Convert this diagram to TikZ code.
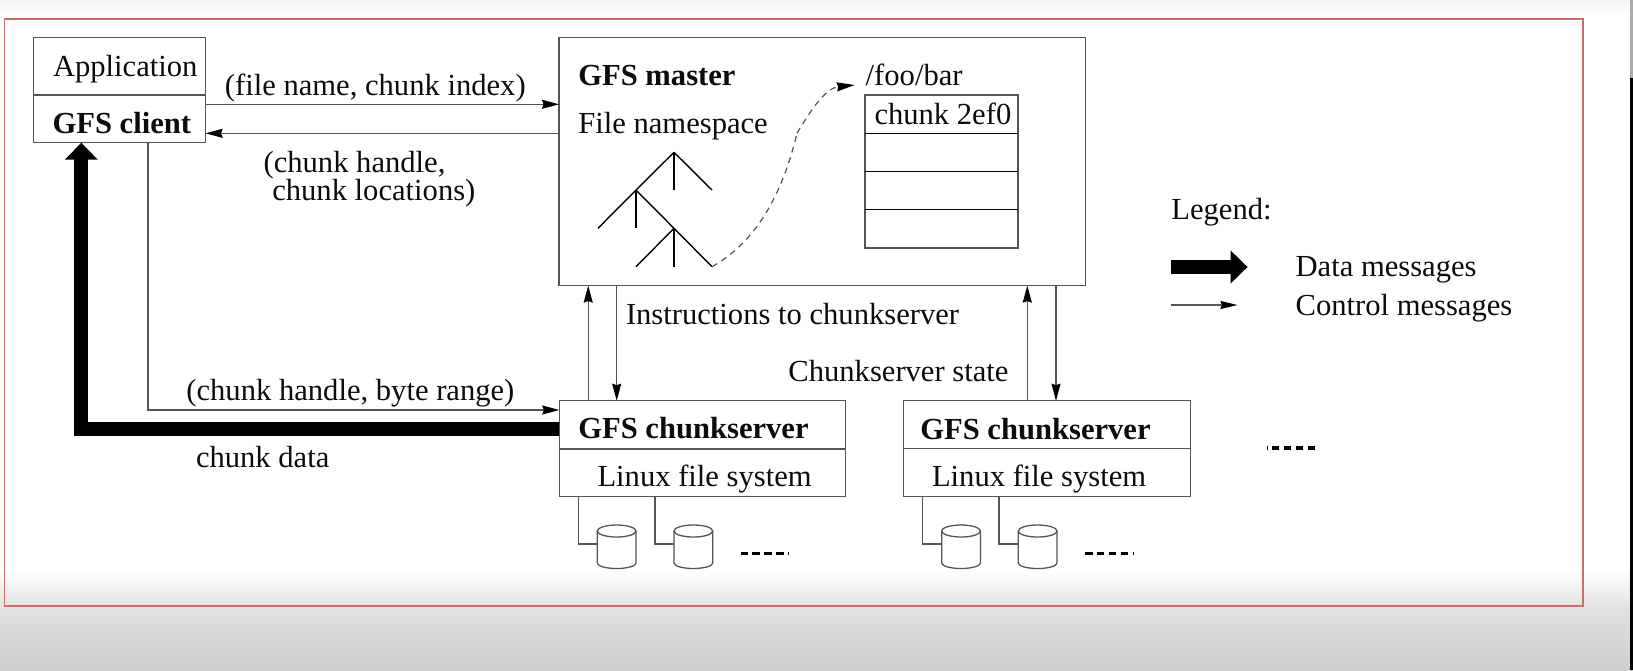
\documentclass[tikz,border=0pt]{standalone}
\usepackage{fontspec}
\setmainfont{Liberation Serif}
\usetikzlibrary{arrows.meta}
\definecolor{frame}{HTML}{C9706A}
\definecolor{ink}{HTML}{555555}
\definecolor{textink}{HTML}{0C0C0C}
\tikzset{
  wire/.style={draw=ink,line width=1.3pt},
  boxnode/.style={wire,rectangle,inner sep=0pt,outer sep=0pt,anchor=north west},
  ctrl/.style={wire,-{Stealth[length=17pt,width=9pt,inset=1.5pt,black]}},
  datamsg/.style={draw=black,line width=14pt,-{Triangle[length=17pt,width=32pt,black]}},
  lbl/.style={inner sep=0pt,outer sep=0pt,anchor=base west,text=textink,font=\fontsize{30.6}{36}\selectfont},
  blbl/.style={lbl,font=\fontsize{30.6}{36}\selectfont\bfseries},
  treeline/.style={draw=black,line width=1.4pt},
  dots/.style={draw=black,line width=3.2pt,dash pattern=on 7.5pt off 4.4pt},
  diskbox/.style={inner sep=0pt,outer sep=0pt,anchor=north west,minimum width=38.7pt,minimum height=44pt}
}
\newcommand{\gfsdisk}[2]{%
  \node[diskbox] (#1) at (#2,525) {};
  \draw[wire] ([yshift=-6pt]#1.north west) -- ([yshift=6pt]#1.south west)
    arc[start angle=180,end angle=360,x radius=19.35pt,y radius=5.5pt]
    -- ([yshift=-6pt]#1.north east);
  \draw[wire] ([yshift=-6pt]#1.north) ellipse [x radius=19.35pt,y radius=6pt];
}
\begin{document}
\begin{tikzpicture}[x=1pt,y=-1pt]
\useasboundingbox (0,0) rectangle (1633,670);
% backdrop
\fill[white] (0,0) rectangle (1633,670);
\shade[top color=black!4,bottom color=white] (0,0) rectangle (1633,16);
\shade[top color=white,bottom color=black!12] (0,570) rectangle (1633,610);
\shade[top color=black!12,bottom color=black!19] (0,610) rectangle (1633,670);
\fill[black!33] (1630,0) rectangle (1633,78);
\fill[black] (1630,78) rectangle (1633,670);
\draw[frame,line width=1.4pt] (4.5,19) rectangle (1583,606);

% client
\node[boxnode,minimum width=172.2pt,minimum height=57.7pt] (app) at (33.4,37.3) {};
\node[boxnode,minimum width=172.2pt,minimum height=47.7pt] (client) at (33.4,95) {};
\node[lbl] (tapp) at (53,76.3) {Application};
\node[blbl] (tclient) at (52.5,133.3) {GFS client};

% master
\node[boxnode,minimum width=526.3pt,minimum height=248.3pt] (master) at (559,37.3) {};
\node[blbl] (tmaster) at (578.3,85.5) {GFS master};
\node[lbl] (tns) at (578.3,133) {File namespace};
\node[lbl] (tfoo) at (865.7,85.5) {/foo/bar};
\node[boxnode,minimum width=153pt,minimum height=38.3pt] (r1) at (865,95) {};
\node[boxnode,minimum width=153pt,minimum height=38pt] (r2) at (865,133.3) {};
\node[boxnode,minimum width=153pt,minimum height=38pt] (r3) at (865,171.3) {};
\node[boxnode,minimum width=153pt,minimum height=38.7pt] (r4) at (865,209.3) {};
\draw[black,line width=1.3pt] (r2.north west) -- (r2.north east);
\draw[black,line width=1.3pt] (r3.north west) -- (r3.north east);
\draw[black,line width=1.3pt] (r4.north west) -- (r4.north east);
\node[lbl] (tchunk) at (874.5,124.3) {chunk 2ef0};

% namespace tree
\coordinate (t0) at (674,152.3);
\coordinate (t1) at (636,190);
\coordinate (t2) at (674,228.3);
\coordinate (t3) at (712,266.7);
\draw[treeline] (t0) -- (712,190);
\draw[treeline] (t0) -- (674,190);
\draw[treeline] (t0) -- (t1) -- (598,228.3);
\draw[treeline] (t1) -- (636,228.3);
\draw[treeline] (t1) -- (t2) -- (t3);
\draw[treeline] (t2) -- (674,266.7);
\draw[treeline] (t2) -- (636,266.7);
\coordinate (foo) at (854.7,85);
\coordinate (bend) at (797,133.3);
\draw[draw=ink,line width=1.2pt,dash pattern=on 6pt off 5pt] (t3) .. controls (745,248) and (778,212) .. (bend);
\draw[draw=ink,line width=1.2pt,dash pattern=on 6pt off 5pt,-{Stealth[length=18pt,width=9pt,inset=1.5pt,black]}] (bend) .. controls (812,108) and (826,88) .. (foo);

% chunkservers
\node[boxnode,minimum width=286.4pt,minimum height=48.3pt] (cs1) at (559.3,400.7) {};
\node[boxnode,minimum width=286.4pt,minimum height=47.3pt] (fs1) at (559.3,449) {};
\node[blbl] (tcs1) at (578.3,438.5) {GFS chunkserver};
\node[lbl] (tfs1) at (597.5,486.5) {Linux file system};
\node[boxnode,minimum width=287pt,minimum height=48pt] (cs2) at (903.3,400.7) {};
\node[boxnode,minimum width=287pt,minimum height=47.6pt] (fs2) at (903.3,448.7) {};
\node[blbl] (tcs2) at (920.3,439) {GFS chunkserver};
\node[lbl] (tfs2) at (932,486.7) {Linux file system};

% disks
\gfsdisk{d1}{597.3}
\gfsdisk{d2}{674}
\gfsdisk{d3}{941.7}
\gfsdisk{d4}{1018.3}
\draw[wire] (fs1.south -| 578.3,0) |- (d1.west |- 0,544);
\draw[wire] (fs1.south -| 655,0) |- (d2.west |- 0,544);
\draw[wire] (fs2.south -| 922.7,0) |- (d3.west |- 0,544);
\draw[wire] (fs2.south -| 999,0) |- (d4.west |- 0,544);
\coordinate (da) at (740.5,553.3);
\coordinate (db) at (789.4,553.3);
\coordinate (dc) at (1085,553.3);
\coordinate (dd) at (1133.4,553.3);
\coordinate (de) at (1315,447.9);
\coordinate (df) at (1266.6,447.9);
\draw[dots] (da) -- (db);
\draw[dots] (dc) -- (dd);
\draw[dots] (de) -- (df);

% connectors
\draw[ctrl] (client.east |- 0,104.3) -- (master.west |- 0,104.3);
\draw[ctrl] (master.west |- 0,133.3) -- (client.east |- 0,133.3);
\draw[ctrl] (client.south -| 148,0) |- (cs1.west |- 0,410);
\draw[datamsg] (cs1.west |- 0,429) -| (client.south -| 81.3,0);
\draw[ctrl] (cs1.north -| 588.2,0) -- (master.south -| 588.2,0);
\draw[ctrl] (master.south -| 616.7,0) -- (cs1.north -| 616.7,0);
\draw[ctrl] (cs2.north -| 1027.3,0) -- (master.south -| 1027.3,0);
\draw[ctrl] (master.south -| 1056,0) -- (cs2.north -| 1056,0);

% connector labels
\node[lbl] (l1) at (224.9,95.3) {(file name, chunk index)};
\node[lbl] (l2) at (263.6,172) {(chunk handle,};
\node[lbl] (l3) at (272.3,200.7) {chunk locations)};
\node[lbl] (l4) at (626,324.5) {Instructions to chunkserver};
\node[lbl] (l5) at (788.4,381) {Chunkserver state};
\node[lbl] (l6) at (186.4,400.3) {(chunk handle, byte range)};
\node[lbl] (l7) at (196,467.5) {chunk data};

% legend
\node[lbl] (lg) at (1171.4,219.3) {Legend:};
\coordinate (la) at (1170.7,267);
\coordinate (lb) at (1247.6,267);
\coordinate (lc) at (1170.7,305);
\coordinate (ld) at (1237.4,305);
\draw[datamsg] (la) -- (lb);
\draw[draw=ink,line width=1.3pt,-{Stealth[length=17pt,width=8pt,inset=1.5pt,black]}] (lc) -- (ld);
\node[lbl] (lg1) at (1295.6,276) {Data messages};
\node[lbl] (lg2) at (1295.6,315) {Control messages};
\end{tikzpicture}
\end{document}
